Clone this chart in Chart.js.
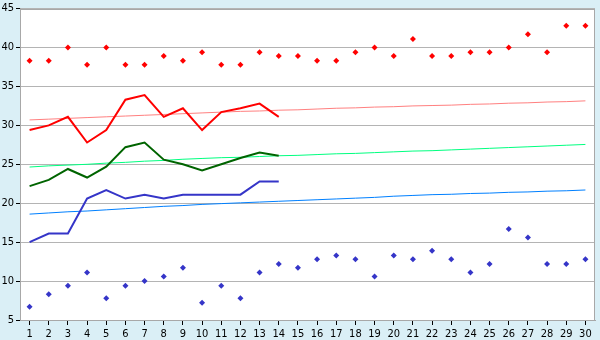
<!DOCTYPE html>
<html>
<head>
<meta charset="utf-8">
<script src="https://cdn.jsdelivr.net/npm/chart.js@4/dist/chart.umd.min.js"></script>
<style>
  body { margin: 0; background: #daeff6; }
  #wrap { width: 600px; height: 340px; }
</style>
</head>
<body>
<div id="wrap"><canvas id="tempchart" width="600" height="340"></canvas></div>
<script>
// day numbers along the bottom
const days = Array.from({ length: 30 }, (_, i) => String(i + 1));

// record highs / lows (diamonds)
const recordHigh = [38.3, 38.3, 40.0, 37.8, 40.0, 37.8, 37.8, 38.9, 38.3, 39.4,
                    37.8, 37.8, 39.4, 38.9, 38.9, 38.3, 38.3, 39.4, 40.0, 38.9,
                    41.1, 38.9, 38.9, 39.4, 39.4, 40.0, 41.7, 39.4, 42.8, 42.8];
const recordLow = [6.7, 8.3, 9.4, 11.1, 7.8, 9.4, 10.0, 10.6, 11.7, 7.2,
                   9.4, 7.8, 11.1, 12.2, 11.7, 12.8, 13.3, 12.8, 10.6, 13.3,
                   12.8, 13.9, 12.8, 11.1, 12.2, 16.7, 15.6, 12.2, 12.2, 12.8];

// observed so far (14 days)
const actualHigh = [29.4, 30.0, 31.1, 27.8, 29.4, 33.3, 33.9, 31.1, 32.2, 29.4, 31.7, 32.2, 32.8, 31.1];
const actualMean = [22.2, 23.0, 24.4, 23.3, 24.7, 27.2, 27.8, 25.6, 25.0, 24.2, 25.0, 25.8, 26.5, 26.1];
const actualLow  = [15.0, 16.1, 16.1, 20.6, 21.7, 20.6, 21.1, 20.6, 21.1, 21.1, 21.1, 21.1, 22.8, 22.8];

// normals
const normalHigh = [30.7, 30.8, 30.9, 31.0, 31.1, 31.2, 31.3, 31.4, 31.5, 31.6,
                    31.7, 31.8, 31.85, 31.95, 32.0, 32.1, 32.2, 32.25, 32.35, 32.4,
                    32.5, 32.55, 32.6, 32.7, 32.75, 32.85, 32.9, 33.0, 33.05, 33.15];
const normalMean = [24.65, 24.8, 24.9, 25.0, 25.15, 25.25, 25.4, 25.5, 25.65, 25.75,
                    25.85, 25.9, 26.0, 26.1, 26.15, 26.25, 26.35, 26.4, 26.5, 26.6,
                    26.7, 26.75, 26.85, 26.95, 27.05, 27.15, 27.25, 27.35, 27.45, 27.55];
const normalLow  = [18.6, 18.75, 18.9, 19.0, 19.15, 19.3, 19.45, 19.6, 19.7, 19.85,
                    19.95, 20.05, 20.15, 20.25, 20.35, 20.45, 20.55, 20.65, 20.75, 20.9,
                    21.0, 21.1, 21.15, 21.25, 21.3, 21.4, 21.45, 21.55, 21.6, 21.7];

const yTicks = [5, 10, 15, 20, 25, 30, 35, 40, 45];

const tickFont = { family: "'DejaVu Sans Condensed', 'DejaVu Sans', sans-serif", size: 11 };

// light blue page, white plot area with a grey frame
const frame = {
    id: 'frame',
    beforeDraw(chart) {
        const c = chart.ctx, a = chart.chartArea;
        c.save();
        c.fillStyle = '#daeff6';
        c.fillRect(0, 0, chart.width, chart.height);
        c.fillStyle = '#ffffff';
        c.fillRect(a.left, a.top, a.right - a.left, a.bottom - a.top);
        c.restore();
    },
    afterDraw(chart) {
        const c = chart.ctx, a = chart.chartArea;
        c.save();
        c.strokeStyle = '#a8a8a8';
        c.lineWidth = 1;
        c.strokeRect(Math.round(a.left) + 0.5, Math.round(a.top) + 0.5,
                     Math.round(a.right - a.left) - 1, Math.round(a.bottom - a.top));
        c.restore();
    }
};

function lineSet(label, data, color, width) {
    return {
        label: label,
        data: data,
        borderColor: color,
        backgroundColor: color,
        borderWidth: width,
        pointRadius: 0,
        tension: 0,
        fill: false,
    };
}

function dotSet(label, data, color) {
    return {
        label: label,
        data: data,
        showLine: false,
        borderColor: color,
        backgroundColor: color,
        pointStyle: 'rectRot',
        pointRadius: 3,
        pointBorderWidth: 0,
    };
}

const ctx = document.getElementById('tempchart').getContext('2d');
const tempchart = new Chart(ctx, {
    type: 'line',
    data: {
        labels: days,
        datasets: [
            lineSet('High', actualHigh, '#ff0000', 2),
            lineSet('Mean', actualMean, '#006400', 2),
            lineSet('Low', actualLow, '#3535c8', 2),
            dotSet('Record high', recordHigh, '#ff0000'),
            dotSet('Record low', recordLow, '#3535c8'),
            lineSet('Normal high', normalHigh, '#ff8080', 1),
            lineSet('Normal mean', normalMean, '#00ff80', 1),
            lineSet('Normal low', normalLow, '#0080ff', 1),
        ],
    },
    options: {
        responsive: false,
        animation: false,
        layout: { padding: { top: 5, right: 5, left: 0, bottom: 0 } },
        plugins: {
            legend: { display: false },
            tooltip: { enabled: false }
        },
        scales: {
            x: {
                type: 'category',
                offset: true,
                grid: { offset: false, drawOnChartArea: false, tickLength: 5, tickColor: '#000000' },
                border: { color: '#a8a8a8' },
                ticks: { color: '#000000', font: tickFont, padding: 3, maxRotation: 0, autoSkip: false },
                afterFit: (s) => { s.height = 20; }
            },
            y: {
                min: 5,
                max: 45,
                afterBuildTicks: (s) => { s.ticks = yTicks.map(v => ({ value: v })); },
                grid: { color: '#b4b4b4', tickLength: 4, tickColor: '#000000' },
                border: { color: '#a8a8a8' },
                ticks: { color: '#000000', font: tickFont, padding: 2 },
                afterFit: (s) => { s.width = 20; }
            },
        },
    },
    plugins: [frame],
});
</script>
</body>
</html>
